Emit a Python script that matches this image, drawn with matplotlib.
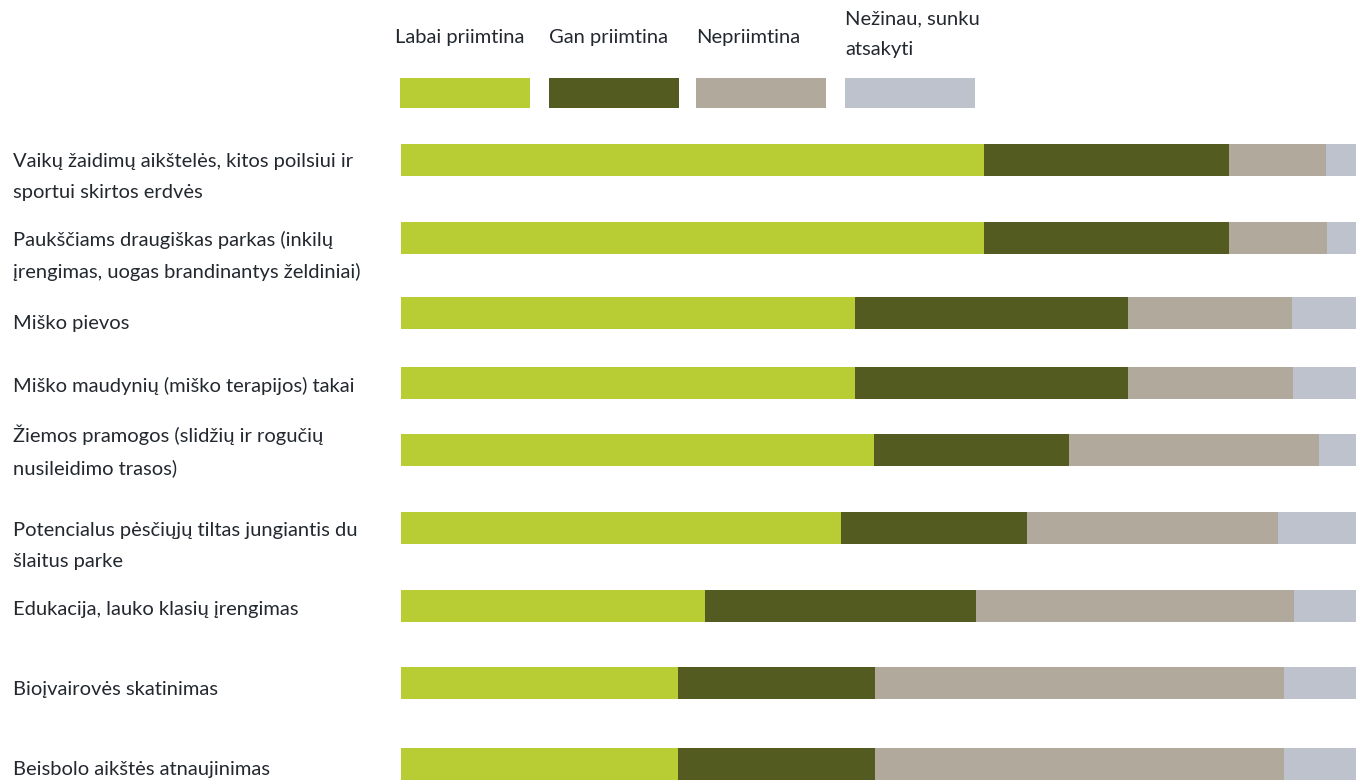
import matplotlib
matplotlib.use("Agg")
import matplotlib.pyplot as plt
from matplotlib.patches import Rectangle
from matplotlib.transforms import blended_transform_factory

# --- dati (percentuali) ---
categorie = [
    "Vaikų žaidimų aikštelės, kitos poilsiui ir\nsportui skirtos erdvės",
    "Paukščiams draugiškas parkas (inkilų\nįrengimas, uogas brandinantys želdiniai)",
    "Miško pievos",
    "Miško maudynių (miško terapijos) takai",
    "Žiemos pramogos (slidžių ir rogučių\nnusileidimo trasos)",
    "Potencialus pėsčiųjų tiltas jungiantis du\nšlaitus parke",
    "Edukacija, lauko klasių įrengimas",
    "Bioįvairovės skatinimas",
    "Beisbolo aikštės atnaujinimas",
]
serie = ["Labai priimtina", "Gan priimtina", "Nepriimtina", "Nežinau, sunku\natsakyti"]

labai = [61.0, 61.0, 47.5, 47.5, 49.5, 46.1, 31.8, 29.0, 29.0]
gan = [25.7, 25.7, 28.6, 28.6, 20.4, 19.4, 28.4, 20.6, 20.6]
nepriimtina = [10.2, 10.3, 17.2, 17.3, 26.2, 26.3, 33.3, 42.9, 42.9]
nezinau = [3.1, 3.0, 6.7, 6.6, 3.9, 8.2, 6.5, 7.5, 7.5]

colori = ["#B8CC33", "#535B21", "#B1AA9C", "#BEC2CC"]
TESTO = "#23282F"

# --- layout (pixel della figura) ---
W, H = 1356, 781
y_barre = [160, 238, 313, 383, 450, 528, 606, 683, 764]
y_etichette = [177, 256, 323, 386, 451, 546, 610, 690, 770]
ALTEZZA = 32
FS = 14.5
INTERLINEA = 1.95

plt.rcParams['font.family'] = ['Lato', 'DejaVu Sans']

fig = plt.figure(figsize=(W / 100, H / 100), dpi=100)
ax = fig.add_axes([401 / W, 0, (W - 401) / W, 1])
ax.set_xlim(0, 100)
ax.set_ylim(H, 0)
ax.axis("off")

sinistra = [0] * len(categorie)
for valori, colore in zip([labai, gan, nepriimtina, nezinau], colori):
    ax.barh(y_barre, valori, left=sinistra, height=ALTEZZA, color=colore, linewidth=0)
    sinistra = [s + v for s, v in zip(sinistra, valori)]

# etichette categorie
trans = blended_transform_factory(fig.transFigure, ax.transData)
for testo, y in zip(categorie, y_etichette):
    ax.text(13 / W, y, testo, transform=trans, ha="left", va="center",
            fontsize=FS, color=TESTO, linespacing=INTERLINEA, clip_on=False)

# legenda manuale
x_leg = [400, 549, 696, 845]
for nome, colore, x in zip(serie, colori, x_leg):
    fig.patches.append(Rectangle((x / W, 1 - 108 / H), 130 / W, 30 / H,
                                 transform=fig.transFigure, color=colore, lw=0))
    y_txt = 37 if "\n" not in nome else 34.5
    fig.text(x / W - (5 / W if x == 400 else 0), 1 - y_txt / H, nome,
             ha="left", va="center", fontsize=FS, color=TESTO, linespacing=INTERLINEA)

fig.savefig("out.png", dpi=100)
